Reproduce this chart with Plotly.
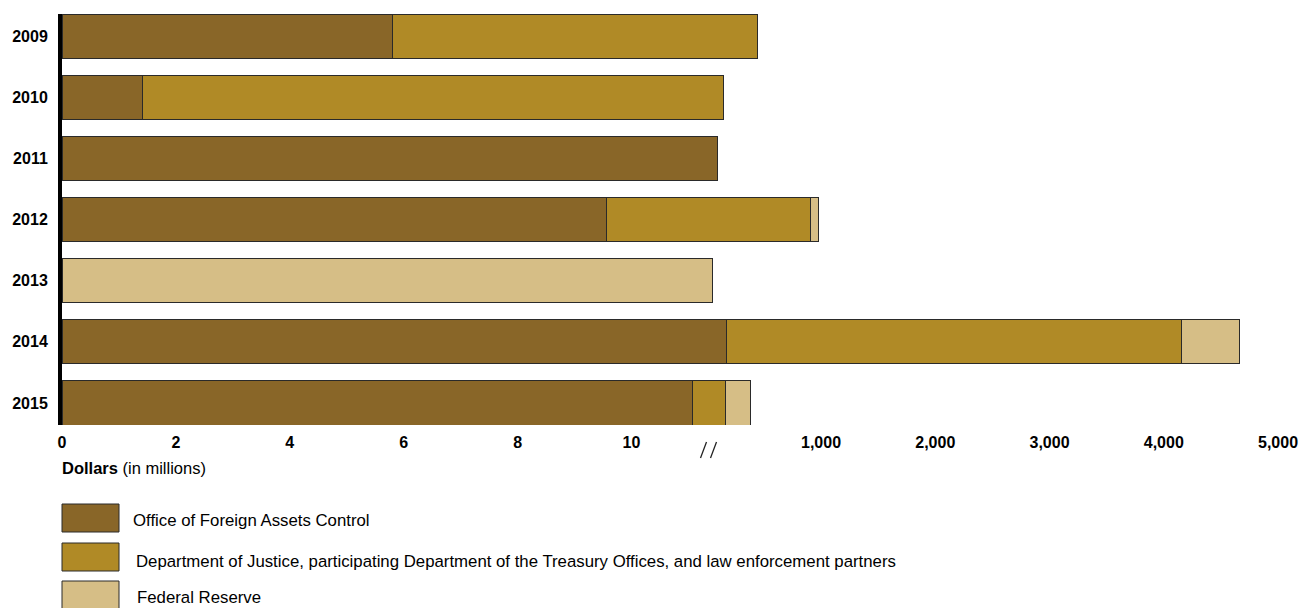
import plotly.graph_objects as go

# ---------------- data (dollars in millions) ----------------
years = ["2009", "2010", "2011", "2012", "2013", "2014", "2015"]
agencies = [
    "Office of Foreign Assets Control",
    "Department of Justice, participating Department of the Treasury Offices, and law enforcement partners",
    "Federal Reserve",
]
ofac = [5.80, 1.42, 91.0, 9.56, 0.0, 176.0, 11.07]
doj = [438.8, 148.3, 0.0, 901.4, 0.0, 3983.0, 156.0]
fed = [0.0, 0.0, 0.0, 67.6, 53.4, 508.0, 219.0]
series = [ofac, doj, fed]
colors = ["#896628", "#B08A26", "#D6BE86"]

left_tickvals = [0, 2, 4, 6, 8, 10]
left_ticktext = ["0", "2", "4", "6", "8", "10"]
right_tickvals = [1000, 2000, 3000, 4000, 5000]
right_ticktext = ["1,000", "2,000", "3,000", "4,000", "5,000"]

# ---------------- layout geometry (pixels) ----------------
W, H = 1299, 608
ML, MR, MT, MB = 62, 14, 14, 183
PW = W - ML - MR
PH = H - MT - MB
k_left = 56.95          # px per million, left scale
k_right = 0.11425       # px per million, right scale
right_zero_px = 706.75  # where 0 of the right scale would sit
break_px = 708          # axis break
overlap_px = 3          # left panel drawn slightly over the right one

left_end_px = break_px + overlap_px
left_range = [0, (left_end_px - ML) / k_left]
right_range = [(break_px - right_zero_px) / k_right, (W - MR - right_zero_px) / k_right]


def px_x(px):
    return (px - ML) / PW


def px_y(py):
    return (H - MB - py) / PH


FONT = "Liberation Sans, Arial, sans-serif"

fig = go.Figure()
# right panel (x) first, left panel (x2) drawn on top of it
for xa in ("x", "x2"):
    for name, vals, col in zip(agencies, series, colors):
        fig.add_trace(go.Bar(
            y=years, x=vals, orientation="h", name=name,
            marker=dict(color=col, line=dict(color="#2a2a2a", width=1)),
            xaxis=xa, yaxis="y", showlegend=False, hoverinfo="x+y+name",
        ))

tickfont = dict(family=FONT, size=16, color="black", weight="bold")

fig.update_layout(
    width=W, height=H,
    margin=dict(l=ML, r=MR, t=MT, b=MB, autoexpand=False),
    paper_bgcolor="white", plot_bgcolor="white",
    barmode="stack", bargap=0.28,
    font=dict(family=FONT, color="black"),
    xaxis2=dict(domain=[0, px_x(left_end_px)], range=left_range, tickvals=left_tickvals,
                ticktext=left_ticktext, showgrid=False, zeroline=False, showline=False,
                ticks="", tickfont=tickfont, anchor="y", fixedrange=True,
                ticklabelstandoff=6, automargin=False),
    xaxis=dict(domain=[px_x(break_px), 1], range=right_range, tickvals=right_tickvals,
               ticktext=right_ticktext, showgrid=False, zeroline=False, showline=False,
               ticks="", tickfont=tickfont, anchor="y", fixedrange=True,
               ticklabelstandoff=6, automargin=False),
    yaxis=dict(type="category", categoryorder="array", categoryarray=years,
               range=[6.36, -0.36], showgrid=False, zeroline=False, showline=True,
               linecolor="black", linewidth=4, ticks="", tickfont=tickfont,
               ticklabelstandoff=7, fixedrange=True, anchor="x2", automargin=False),
)

annotations = [
    dict(text="<b>Dollars</b> (in millions)", x=px_x(60), y=px_y(468), xref="paper",
         yref="paper", xanchor="left", yanchor="middle", showarrow=False,
         font=dict(family=FONT, size=16.5, color="black")),
]
shapes = []
# axis-break marks
for x0, x1 in [(700.5, 706.5), (710.5, 716.5)]:
    shapes.append(dict(type="line", xref="paper", yref="paper",
                       x0=px_x(x0), y0=px_y(458), x1=px_x(x1), y1=px_y(442),
                       line=dict(color="#222", width=1.3)))

# legend
legend_rows = [(504, 532, 520, 131), (543, 571, 561, 134), (581, 609, 597, 135)]
for (top, bot, ty, tx), name, col in zip(legend_rows, agencies, colors):
    shapes.append(dict(type="rect", xref="paper", yref="paper",
                       x0=px_x(62), x1=px_x(119), y0=px_y(bot), y1=px_y(top),
                       fillcolor=col, line=dict(color="#2a2a2a", width=1)))
    annotations.append(dict(text=name, x=px_x(tx), y=px_y(ty), xref="paper", yref="paper",
                            xanchor="left", yanchor="middle", showarrow=False,
                            font=dict(family=FONT, size=16.8, color="black")))

fig.update_layout(shapes=shapes, annotations=annotations)
fig.write_html(
    "out.html",
    config={"displayModeBar": False},
    post_script="document.body.style.margin='0';document.body.style.overflow='hidden';",
)
